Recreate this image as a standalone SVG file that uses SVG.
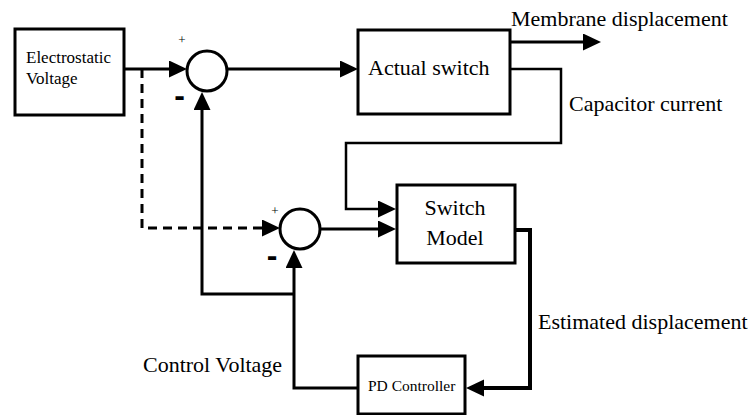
<svg xmlns="http://www.w3.org/2000/svg" width="752" height="415" viewBox="0 0 752 415">
  <style>
    .box { fill: #ffffff; stroke: #000000; stroke-width: 3; }
    .sum { fill: #ffffff; stroke: #000000; stroke-width: 3; }
    .line { fill: none; stroke: #000000; stroke-width: 3; }
    .thin { fill: none; stroke: #000000; stroke-width: 2.5; }
    .dash { fill: none; stroke: #000000; stroke-width: 3; stroke-dasharray: 9 6; }
    text { fill: #000000; }
  </style>
  <defs>
    <marker id="arrow" markerUnits="userSpaceOnUse" markerWidth="20" markerHeight="18" refX="8" refY="8.5" orient="auto">
      <path d="M0,0 L18,8.5 L0,17 Z" fill="#000000"/>
    </marker>
  </defs>
  <rect width="752" height="415" fill="#ffffff"/>

  <g id="connectors">
    <path class="line" d="M124,69 H177" marker-end="url(#arrow)"/>
    <path class="line" d="M228,69 H348" marker-end="url(#arrow)"/>
    <path class="line" d="M510,42 H591" marker-end="url(#arrow)"/>
    <path class="thin" d="M510,69 H561 V143 H346 V209 H386" marker-end="url(#arrow)"/>
    <path class="line" d="M320,229 H386" marker-end="url(#arrow)"/>
    <path class="dash" d="M142,69 V228 H270" marker-end="url(#arrow)"/>
    <path class="line" d="M358,388 H294 V260" marker-end="url(#arrow)"/>
    <path class="line" d="M294,294 H202 V102" marker-end="url(#arrow)"/>
    <path class="line" style="stroke-width:4" d="M515,230 H530 V388 H476" marker-end="url(#arrow)"/>
  </g>

  <g id="electrostatic-voltage" font-family="'Liberation Serif', 'DejaVu Serif', serif" font-size="17">
    <rect class="box" x="15" y="29" width="109" height="86"/>
    <text x="26" y="63">Electrostatic</text>
    <text x="26" y="84">Voltage</text>
  </g>

  <g id="sum1">
    <circle class="sum" cx="207" cy="71" r="20"/>
    <text x="182" y="44" text-anchor="middle" font-family="'Liberation Serif', serif" font-size="13">+</text>
    <text x="179.5" y="106" text-anchor="middle" font-family="'Liberation Sans', sans-serif" font-size="32" font-weight="bold">-</text>
  </g>

  <g id="actual-switch" font-family="'Liberation Serif', 'DejaVu Serif', serif" font-size="22">
    <rect class="box" x="358" y="30" width="152" height="84"/>
    <text x="368" y="75">Actual switch</text>
  </g>

  <g id="sum2">
    <circle class="sum" cx="300" cy="229" r="20"/>
    <text x="275" y="215" text-anchor="middle" font-family="'Liberation Serif', serif" font-size="13">+</text>
    <text x="272" y="266" text-anchor="middle" font-family="'Liberation Sans', sans-serif" font-size="32" font-weight="bold">-</text>
  </g>

  <g id="switch-model" font-family="'Liberation Serif', 'DejaVu Serif', serif" font-size="22">
    <rect class="box" x="397" y="185" width="118" height="78"/>
    <text x="455" y="215" text-anchor="middle">Switch</text>
    <text x="455" y="245" text-anchor="middle">Model</text>
  </g>

  <g id="pd-controller" font-family="'Liberation Serif', 'DejaVu Serif', serif" font-size="15.5">
    <rect class="box" x="358" y="356" width="107" height="58"/>
    <text x="368" y="391">PD Controller</text>
  </g>

  <g id="labels" font-family="'Liberation Serif', 'DejaVu Serif', serif" font-size="22">
    <text x="511" y="26">Membrane displacement</text>
    <text x="569" y="111">Capacitor current</text>
    <text x="538" y="329">Estimated displacement</text>
    <text x="143" y="372">Control Voltage</text>
  </g>
</svg>
